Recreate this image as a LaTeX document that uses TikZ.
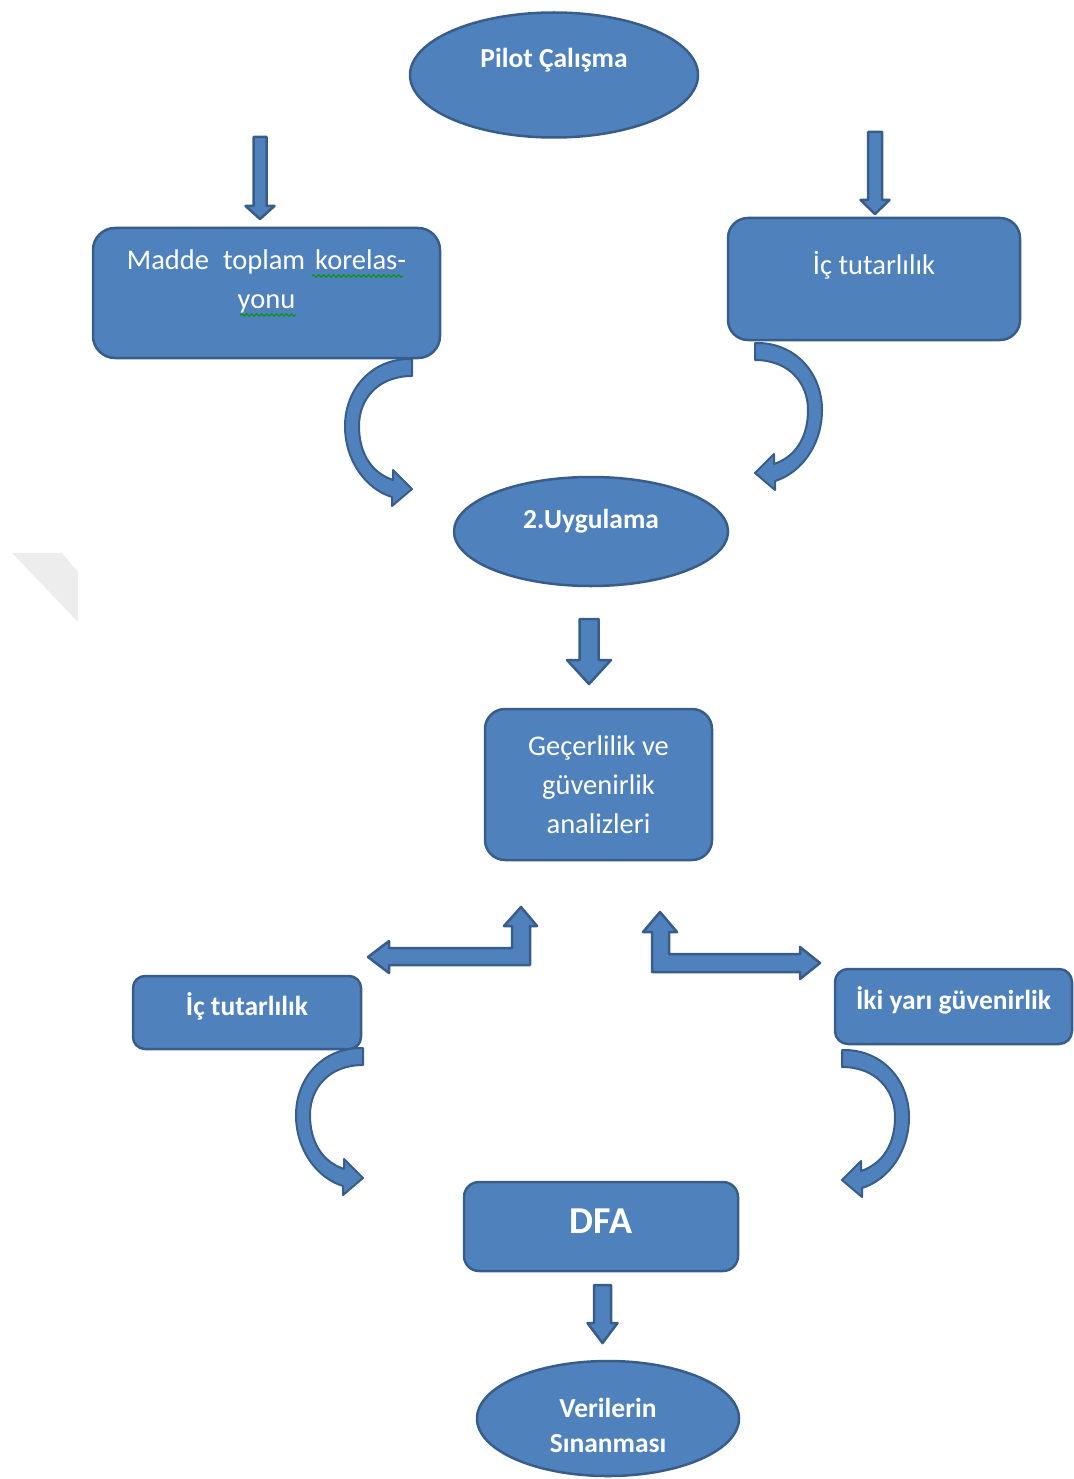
\documentclass[tikz,border=0pt]{standalone}
\usepackage{fontspec}
\setmainfont{Carlito}
\usetikzlibrary{shapes.geometric,decorations.pathmorphing}

\definecolor{wordblue}{RGB}{79,129,189}
\definecolor{wordedge}{RGB}{56,93,138}

\tikzset{
  blk/.style={fill=wordblue,draw=wordedge,line width=2.5pt,line join=round},
  box/.style={blk,rectangle,rounded corners=#1,inner sep=0pt},
  oval/.style={blk,ellipse,inner sep=0pt},
  lbl/.style={text=white,align=center,font=\fontsize{28.5}{39}\selectfont},
  lblb/.style={text=white,align=center,font=\fontsize{27.5}{35}\selectfont\bfseries},
  spell/.style={green!60!black,line width=1pt,decorate,
    decoration={snake,amplitude=1.3pt,segment length=5pt}},
  pics/curvarr/.style={code={
    \draw[blk,line width=2pt] (0,0) .. controls (-40,-1) and (-67,30) .. (-67,67)
      .. controls (-67,102) and (-46,130) .. (-20,138) -- (-20,147) -- (0,130)
      -- (-19,111) -- (-19,121) .. controls (-40,114) and (-53,95) .. (-53,67)
      .. controls (-53,40) and (-34,17) .. (0,17) -- cycle;
  }}
}

% block arrow pointing down: x, top, tip, half shaft, half head, head length
\newcommand\downarr[6]{%
  \draw[blk] (#1-#4,#2) -- (#1+#4,#2) -- (#1+#4,#3-#6) -- (#1+#5,#3-#6)
    -- (#1,#3) -- (#1-#5,#3-#6) -- (#1-#4,#3-#6) -- cycle;}

\begin{document}
\begin{tikzpicture}[x=1pt,y=-1pt]
  \useasboundingbox (0,0) rectangle (1073,1479);
  \fill[black!7] (12,553) -- (62,553) -- (78,572) -- (78,622) -- cycle;

  \node[oval,minimum width=288pt,minimum height=125pt,
    label={[lblb,yshift=15pt]center:Pilot Çalışma}] (pilot) at (554,75) {};

  \downarr{260}{137}{219}{6.5}{14.5}{13}
  \downarr{875}{132}{214}{7}{14.5}{14}

  \node[box=22pt,minimum width=347pt,minimum height=130pt,
    label={[lbl,yshift=12pt]center:Madde\hspace{14pt}toplam\hspace{10pt}korelas-\\yonu}] (madde) at (266.5,293) {};
  \draw[spell] (312,276) -- (403,276);
  \draw[spell] (240,315) -- (296,315);
  \node[box=20pt,minimum width=292pt,minimum height=122pt,
    label={[lbl,yshift=14pt]center:İç tutarlılık}] (icust) at (874,279) {};

  \pic at (412,359) {curvarr};
  \pic[xscale=-1] at (755,343) {curvarr};

  \node[oval,minimum width=274pt,minimum height=109pt,
    label={[lblb,yshift=10pt]center:2.Uygulama}] (uyg) at (591,531.5) {};

  \downarr{589}{619}{684}{9.5}{22}{24}

  \node[box=20pt,minimum width=227pt,minimum height=151pt,
    label={[lbl]center:Geçerlilik ve\\güvenirlik\\analizleri}] (gecer) at (598.5,784.5) {};

  % bent arrows under the analysis box
  \draw[blk] (368,957) -- (389,941) -- (389,948) -- (512,948) -- (512,926)
    -- (504,926) -- (521,907) -- (537,926) -- (530,926) -- (530,965)
    -- (389,965) -- (389,973) -- cycle;
  \draw[blk] (660,912) -- (677,932) -- (669,932) -- (669,954) -- (800,954)
    -- (800,947) -- (820,963) -- (800,979) -- (800,972) -- (652,972)
    -- (652,932) -- (643,932) -- cycle;

  \node[box=12pt,minimum width=228pt,minimum height=73pt,
    label={[lblb,yshift=6pt]center:İç tutarlılık}] (icalt) at (247,1012.5) {};
  \node[box=13pt,minimum width=237pt,minimum height=75pt,
    label={[lblb,yshift=6pt]center:İki yarı güvenirlik}] (iki) at (953.5,1006.5) {};

  \pic at (363,1048) {curvarr};
  \pic[xscale=-1] at (842,1050) {curvarr};

  \node[box=15pt,minimum width=274pt,minimum height=89pt,
    label={[lblb,font=\fontsize{38}{40}\selectfont\bfseries,yshift=5pt]center:DFA}] (dfa) at (601,1226.5) {};

  \downarr{602.5}{1285}{1343}{8.5}{15}{20}

  \node[oval,minimum width=262pt,minimum height=115pt,
    label={[lblb,yshift=-7pt]center:Verilerin\\Sınanması}] (veri) at (608,1418.5) {};
\end{tikzpicture}
\end{document}
